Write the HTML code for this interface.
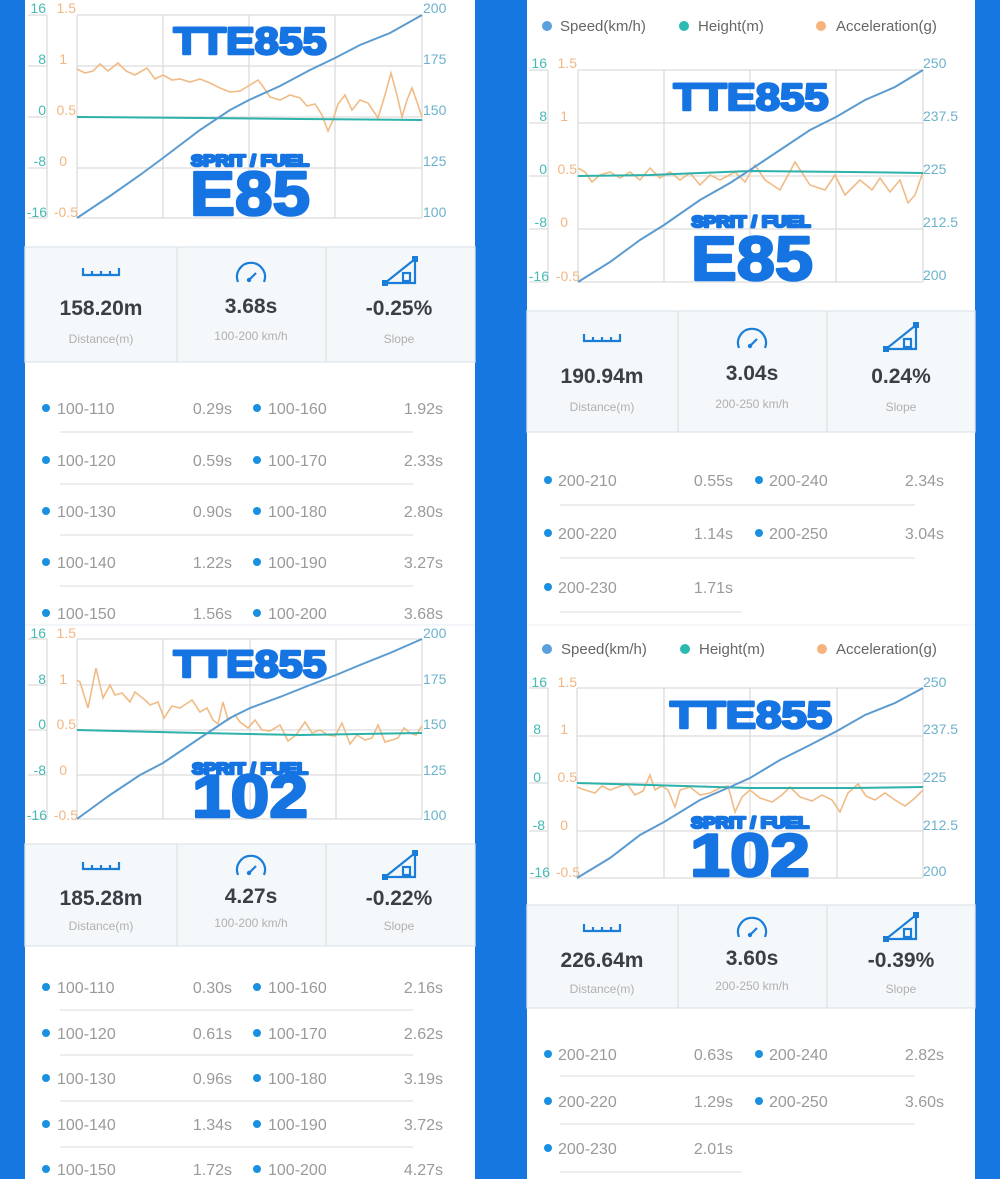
<!DOCTYPE html>
<html><head><meta charset="utf-8"><style>
html,body{margin:0;padding:0;background:#1677e0;}
svg{display:block;font-family:"Liberation Sans",sans-serif;}
.g{stroke:#dcdcdc;stroke-width:1.3;fill:none}
.lg{fill:#45b9b6;font-size:14px}
.lo{fill:#f0b783;font-size:14px}
.lr{fill:#6cb2cc;font-size:14px}
.sp{fill:none;stroke:#5b9bd0;stroke-width:2}
.ht{fill:none;stroke:#2cb2aa;stroke-width:2}
.ac{fill:none;stroke:#f0bb85;stroke-width:1.6}
.big{fill:#1574e2;font-weight:bold;stroke:#1574e2;stroke-width:2.5;stroke-linejoin:round}
.val{fill:#3a3f45;font-size:21px;font-weight:bold}
.sub{fill:#b0b0b0;font-size:12px}
.li{fill:#9a9a9a;font-size:16px}
.dot{fill:#1a90e0}
.sep{stroke:#e2e2e2;stroke-width:1.3}
.box{fill:#f4f8fa;stroke:#e0e6ea;stroke-width:1.3}
.ic{fill:none;stroke:#1a7ed8;stroke-width:2.2}
</style></head><body>
<svg width="1000" height="1179" viewBox="0 0 1000 1179" xmlns="http://www.w3.org/2000/svg">
<defs>
<g id="ruler"><path class="ic" d="M-18,-4 V3 H18 V-4 M-9,-1 V3 M0,-1 V3 M9,-1 V3"/></g>
<g id="gauge"><path class="ic" d="M-13,6 A14,14 0 1 1 13,6"/><path class="ic" d="M-2,4 L5,-3"/><circle cx="-2" cy="4" r="2.2" fill="#1a7ed8"/></g>
<g id="slope"><path class="ic" d="M-15,10 L15,-14 V10 Z" stroke-width="2.6"/><rect x="3" y="0" width="7" height="8" class="ic" stroke-width="1.6"/><rect x="-18" y="7" width="6" height="6" fill="#1a7ed8"/><rect x="12" y="-17" width="6" height="6" fill="#1a7ed8"/></g>
</defs>
<rect x="0" y="0" width="1000" height="1179" fill="#1677e0"/>
<rect x="25" y="0" width="450" height="1179" fill="#fff"/>
<rect x="527" y="0" width="448" height="1179" fill="#fff"/>
<line x1="25" y1="625" x2="475" y2="625" stroke="#e6eef4"/>
<line x1="527" y1="625" x2="975" y2="625" stroke="#eef2f5"/>

<!-- ===== Panel 1 left top ===== -->
<g>
<path class="g" d="M77,15H422M77,66H422M77,117H422M77,168H422M77,218H422M77,15V218M163,15V218M249,15V218M335,15V218M422,15V218"/>
<path class="g" d="M47,15V218M28,15H47M28,66H47M28,117H47M28,168H47M28,218H47"/>
<text class="lg" x="46" y="13" text-anchor="end">16</text><text class="lg" x="46" y="64" text-anchor="end">8</text><text class="lg" x="46" y="115" text-anchor="end">0</text><text class="lg" x="46" y="166" text-anchor="end">-8</text><text class="lg" x="47" y="217" text-anchor="end">-16</text>
<text class="lo" x="76" y="13" text-anchor="end">1.5</text><text class="lo" x="67" y="64" text-anchor="end">1</text><text class="lo" x="76" y="115" text-anchor="end">0.5</text><text class="lo" x="67" y="166" text-anchor="end">0</text><text class="lo" x="78" y="217" text-anchor="end">-0.5</text>
<text class="lr" x="423" y="13">200</text><text class="lr" x="423" y="64">175</text><text class="lr" x="423" y="115">150</text><text class="lr" x="423" y="166">125</text><text class="lr" x="423" y="217">100</text>
<polyline class="ac" points="77,69 85,73 93,71 100,64 108,71 118,63 126,71 135,75 147,68 155,79 163,75 172,80 180,79 190,82 200,79 210,83 220,88 230,92 240,91 250,85 258,80 262,85 270,97 280,100 290,95 300,98 307,106 315,104 322,115 328,131 333,120 338,104 345,95 352,110 360,100 368,103 378,118 385,95 391,73 397,95 402,117 407,100 412,88 418,105 422,117"/>
<polyline class="ht" points="77,117 200,118 300,119 422,120"/>
<polyline class="sp" points="77,218 110,196 140,175 163,158 200,130 230,110 249,100 280,86 310,70 335,58 360,45 390,33 422,15"/>
<text class="big" x="250" y="54" font-size="38" text-anchor="middle" textLength="153" lengthAdjust="spacingAndGlyphs">TTE855</text>
<text class="big" x="250" y="166" font-size="16" text-anchor="middle" textLength="118" lengthAdjust="spacingAndGlyphs" stroke-width="1">SPRIT / FUEL</text>
<text class="big" x="250" y="215" font-size="62" text-anchor="middle" textLength="120" lengthAdjust="spacingAndGlyphs" stroke-width="4">E85</text>
<rect class="box" x="25" y="247" width="450" height="115"/>
<path class="sep" d="M177,247V362M326,247V362"/>
<use href="#ruler" x="101" y="272"/><use href="#gauge" x="251" y="276"/><use href="#slope" x="400" y="273"/>
<text class="val" x="101" y="315" text-anchor="middle">158.20m</text><text class="val" x="251" y="313" text-anchor="middle">3.68s</text><text class="val" x="399" y="315" text-anchor="middle">-0.25%</text>
<text class="sub" x="101" y="343" text-anchor="middle">Distance(m)</text><text class="sub" x="251" y="340" text-anchor="middle">100-200 km/h</text><text class="sub" x="399" y="343" text-anchor="middle">Slope</text>
<g>
<circle class="dot" cx="46" cy="408" r="4"/><text class="li" x="57" y="414">100-110</text><text class="li" x="232" y="414" text-anchor="end">0.29s</text><circle class="dot" cx="257" cy="408" r="4"/><text class="li" x="268" y="414">100-160</text><text class="li" x="443" y="414" text-anchor="end">1.92s</text>
<line class="sep" x1="60" y1="432" x2="413" y2="432"/>
<circle class="dot" cx="46" cy="460" r="4"/><text class="li" x="57" y="466">100-120</text><text class="li" x="232" y="466" text-anchor="end">0.59s</text><circle class="dot" cx="257" cy="460" r="4"/><text class="li" x="268" y="466">100-170</text><text class="li" x="443" y="466" text-anchor="end">2.33s</text>
<line class="sep" x1="60" y1="484" x2="413" y2="484"/>
<circle class="dot" cx="46" cy="511" r="4"/><text class="li" x="57" y="517">100-130</text><text class="li" x="232" y="517" text-anchor="end">0.90s</text><circle class="dot" cx="257" cy="511" r="4"/><text class="li" x="268" y="517">100-180</text><text class="li" x="443" y="517" text-anchor="end">2.80s</text>
<line class="sep" x1="60" y1="535" x2="413" y2="535"/>
<circle class="dot" cx="46" cy="562" r="4"/><text class="li" x="57" y="568">100-140</text><text class="li" x="232" y="568" text-anchor="end">1.22s</text><circle class="dot" cx="257" cy="562" r="4"/><text class="li" x="268" y="568">100-190</text><text class="li" x="443" y="568" text-anchor="end">3.27s</text>
<line class="sep" x1="60" y1="586" x2="413" y2="586"/>
<circle class="dot" cx="46" cy="613" r="4"/><text class="li" x="57" y="619">100-150</text><text class="li" x="232" y="619" text-anchor="end">1.56s</text><circle class="dot" cx="257" cy="613" r="4"/><text class="li" x="268" y="619">100-200</text><text class="li" x="443" y="619" text-anchor="end">3.68s</text>
</g>
</g>

<!-- ===== Panel 2 left bottom ===== -->
<g>
<path class="g" d="M77,639H422M77,685H422M77,730H422M77,775H422M77,819H422M77,639V819M163,639V819M250,639V819M336,639V819M422,639V819"/>
<path class="g" d="M47,639V819M28,639H47M28,685H47M28,730H47M28,775H47M28,819H47"/>
<text class="lg" x="46" y="638" text-anchor="end">16</text><text class="lg" x="46" y="684" text-anchor="end">8</text><text class="lg" x="46" y="729" text-anchor="end">0</text><text class="lg" x="46" y="775" text-anchor="end">-8</text><text class="lg" x="47" y="820" text-anchor="end">-16</text>
<text class="lo" x="76" y="638" text-anchor="end">1.5</text><text class="lo" x="67" y="684" text-anchor="end">1</text><text class="lo" x="76" y="729" text-anchor="end">0.5</text><text class="lo" x="67" y="775" text-anchor="end">0</text><text class="lo" x="78" y="820" text-anchor="end">-0.5</text>
<text class="lr" x="423" y="638">200</text><text class="lr" x="423" y="684">175</text><text class="lr" x="423" y="729">150</text><text class="lr" x="423" y="775">125</text><text class="lr" x="423" y="820">100</text>
<polyline class="ac" points="77,680 80,682 88,708 96,668 103,698 110,685 115,695 122,693 130,702 135,692 145,700 150,705 158,702 164,718 172,706 180,708 192,700 200,712 207,708 213,720 218,724 223,702 228,720 235,715 240,722 248,728 255,720 262,730 270,731 280,725 288,741 296,735 305,722 312,733 320,730 328,735 335,736 342,723 350,744 357,735 365,740 372,738 378,725 385,742 392,740 398,738 404,728 410,733 416,735 422,726"/>
<polyline class="ht" points="77,730 200,733 300,735 422,733"/>
<polyline class="sp" points="77,819 110,795 140,775 163,763 200,738 230,718 250,708 280,697 310,685 336,675 360,665 390,653 422,639"/>
<text class="big" x="250" y="677" font-size="38" text-anchor="middle" textLength="153" lengthAdjust="spacingAndGlyphs">TTE855</text>
<text class="big" x="250" y="774" font-size="16" text-anchor="middle" textLength="116" lengthAdjust="spacingAndGlyphs" stroke-width="1">SPRIT / FUEL</text>
<text class="big" x="250" y="817" font-size="60" text-anchor="middle" textLength="116" lengthAdjust="spacingAndGlyphs" stroke-width="4">102</text>
<rect class="box" x="25" y="844" width="450" height="102"/>
<path class="sep" d="M177,844V946M326,844V946"/>
<use href="#ruler" x="101" y="866"/><use href="#gauge" x="251" y="869"/><use href="#slope" x="400" y="867"/>
<text class="val" x="101" y="905" text-anchor="middle">185.28m</text><text class="val" x="251" y="903" text-anchor="middle">4.27s</text><text class="val" x="399" y="905" text-anchor="middle">-0.22%</text>
<text class="sub" x="101" y="930" text-anchor="middle">Distance(m)</text><text class="sub" x="251" y="927" text-anchor="middle">100-200 km/h</text><text class="sub" x="399" y="930" text-anchor="middle">Slope</text>
<circle class="dot" cx="46" cy="987" r="4"/><text class="li" x="57" y="993">100-110</text><text class="li" x="232" y="993" text-anchor="end">0.30s</text><circle class="dot" cx="257" cy="987" r="4"/><text class="li" x="268" y="993">100-160</text><text class="li" x="443" y="993" text-anchor="end">2.16s</text>
<line class="sep" x1="60" y1="1010" x2="413" y2="1010"/>
<circle class="dot" cx="46" cy="1033" r="4"/><text class="li" x="57" y="1039">100-120</text><text class="li" x="232" y="1039" text-anchor="end">0.61s</text><circle class="dot" cx="257" cy="1033" r="4"/><text class="li" x="268" y="1039">100-170</text><text class="li" x="443" y="1039" text-anchor="end">2.62s</text>
<line class="sep" x1="60" y1="1055" x2="413" y2="1055"/>
<circle class="dot" cx="46" cy="1078" r="4"/><text class="li" x="57" y="1084">100-130</text><text class="li" x="232" y="1084" text-anchor="end">0.96s</text><circle class="dot" cx="257" cy="1078" r="4"/><text class="li" x="268" y="1084">100-180</text><text class="li" x="443" y="1084" text-anchor="end">3.19s</text>
<line class="sep" x1="60" y1="1101" x2="413" y2="1101"/>
<circle class="dot" cx="46" cy="1124" r="4"/><text class="li" x="57" y="1130">100-140</text><text class="li" x="232" y="1130" text-anchor="end">1.34s</text><circle class="dot" cx="257" cy="1124" r="4"/><text class="li" x="268" y="1130">100-190</text><text class="li" x="443" y="1130" text-anchor="end">3.72s</text>
<line class="sep" x1="60" y1="1147" x2="413" y2="1147"/>
<circle class="dot" cx="46" cy="1169" r="4"/><text class="li" x="57" y="1175">100-150</text><text class="li" x="232" y="1175" text-anchor="end">1.72s</text><circle class="dot" cx="257" cy="1169" r="4"/><text class="li" x="268" y="1175">100-200</text><text class="li" x="443" y="1175" text-anchor="end">4.27s</text>
</g>

<!-- ===== Panel 3 right top ===== -->
<g>
<circle cx="547" cy="26" r="5" fill="#5aa0dc"/><text x="560" y="31" font-size="15" fill="#666">Speed(km/h)</text>
<circle cx="684" cy="26" r="5" fill="#2cb9b2"/><text x="698" y="31" font-size="15" fill="#666">Height(m)</text>
<circle cx="821" cy="26" r="5" fill="#f5b27c"/><text x="836" y="31" font-size="15" fill="#666">Acceleration(g)</text>
<path class="g" d="M578,70H923M578,123H923M578,176H923M578,229H923M578,282H923M578,70V282M664,70V282M750,70V282M836,70V282M923,70V282"/>
<path class="g" d="M548,70V282M529,70H548M529,123H548M529,176H548M529,229H548M529,282H548"/>
<text class="lg" x="547" y="68" text-anchor="end">16</text><text class="lg" x="547" y="121" text-anchor="end">8</text><text class="lg" x="547" y="174" text-anchor="end">0</text><text class="lg" x="547" y="227" text-anchor="end">-8</text><text class="lg" x="549" y="281" text-anchor="end">-16</text>
<text class="lo" x="577" y="68" text-anchor="end">1.5</text><text class="lo" x="568" y="121" text-anchor="end">1</text><text class="lo" x="577" y="174" text-anchor="end">0.5</text><text class="lo" x="568" y="227" text-anchor="end">0</text><text class="lo" x="580" y="281" text-anchor="end">-0.5</text>
<text class="lr" x="923" y="68">250</text><text class="lr" x="923" y="121">237.5</text><text class="lr" x="923" y="174">225</text><text class="lr" x="923" y="227">212.5</text><text class="lr" x="923" y="280">200</text>
<polyline class="ac" points="578,168 585,172 592,182 600,175 610,172 620,178 630,172 640,180 650,168 660,178 670,172 680,180 690,173 700,185 710,175 720,180 735,172 745,182 755,165 765,180 780,190 795,162 810,185 825,190 835,175 845,195 860,180 872,190 880,178 890,192 900,180 908,203 915,195 923,172"/>
<polyline class="ht" points="578,176 650,175 750,171 850,172 923,173"/>
<polyline class="sp" points="578,282 610,262 640,240 664,225 700,200 730,183 750,170 780,150 810,130 836,117 865,100 895,87 923,70"/>
<text class="big" x="751" y="110" font-size="38" text-anchor="middle" textLength="155" lengthAdjust="spacingAndGlyphs">TTE855</text>
<text class="big" x="751" y="227" font-size="16" text-anchor="middle" textLength="119" lengthAdjust="spacingAndGlyphs" stroke-width="1">SPRIT / FUEL</text>
<text class="big" x="752" y="280" font-size="62" text-anchor="middle" textLength="122" lengthAdjust="spacingAndGlyphs" stroke-width="4">E85</text>
<rect class="box" x="527" y="311" width="448" height="121"/>
<path class="sep" d="M678,311V432M827,311V432"/>
<use href="#ruler" x="602" y="338"/><use href="#gauge" x="752" y="342"/><use href="#slope" x="901" y="339"/>
<text class="val" x="602" y="383" text-anchor="middle">190.94m</text><text class="val" x="752" y="380" text-anchor="middle">3.04s</text><text class="val" x="901" y="383" text-anchor="middle">0.24%</text>
<text class="sub" x="602" y="411" text-anchor="middle">Distance(m)</text><text class="sub" x="752" y="408" text-anchor="middle">200-250 km/h</text><text class="sub" x="901" y="411" text-anchor="middle">Slope</text>
<circle class="dot" cx="548" cy="480" r="4"/><text class="li" x="558" y="486">200-210</text><text class="li" x="733" y="486" text-anchor="end">0.55s</text><circle class="dot" cx="759" cy="480" r="4"/><text class="li" x="769" y="486">200-240</text><text class="li" x="944" y="486" text-anchor="end">2.34s</text>
<line class="sep" x1="560" y1="505" x2="915" y2="505"/>
<circle class="dot" cx="548" cy="533" r="4"/><text class="li" x="558" y="539">200-220</text><text class="li" x="733" y="539" text-anchor="end">1.14s</text><circle class="dot" cx="759" cy="533" r="4"/><text class="li" x="769" y="539">200-250</text><text class="li" x="944" y="539" text-anchor="end">3.04s</text>
<line class="sep" x1="560" y1="558" x2="915" y2="558"/>
<circle class="dot" cx="548" cy="587" r="4"/><text class="li" x="558" y="593">200-230</text><text class="li" x="733" y="593" text-anchor="end">1.71s</text>
<line class="sep" x1="560" y1="612" x2="742" y2="612"/>
</g>

<!-- ===== Panel 4 right bottom ===== -->
<g>
<circle cx="547" cy="649" r="5" fill="#5aa0dc"/><text x="561" y="654" font-size="15" fill="#666">Speed(km/h)</text>
<circle cx="685" cy="649" r="5" fill="#2cb9b2"/><text x="699" y="654" font-size="15" fill="#666">Height(m)</text>
<circle cx="822" cy="649" r="5" fill="#f5b27c"/><text x="836" y="654" font-size="15" fill="#666">Acceleration(g)</text>
<path class="g" d="M577,688H923M577,736H923M577,783H923M577,831H923M577,878H923M577,688V878M664,688V878M750,688V878M837,688V878M923,688V878"/>
<path class="g" d="M548,688V878M529,688H548M529,736H548M529,783H548M529,831H548M529,878H548"/>
<text class="lg" x="547" y="687" text-anchor="end">16</text><text class="lg" x="541" y="734" text-anchor="end">8</text><text class="lg" x="541" y="782" text-anchor="end">0</text><text class="lg" x="545" y="830" text-anchor="end">-8</text><text class="lg" x="550" y="877" text-anchor="end">-16</text>
<text class="lo" x="577" y="687" text-anchor="end">1.5</text><text class="lo" x="568" y="734" text-anchor="end">1</text><text class="lo" x="577" y="782" text-anchor="end">0.5</text><text class="lo" x="568" y="830" text-anchor="end">0</text><text class="lo" x="580" y="877" text-anchor="end">-0.5</text>
<text class="lr" x="923" y="687">250</text><text class="lr" x="923" y="734">237.5</text><text class="lr" x="923" y="782">225</text><text class="lr" x="923" y="830">212.5</text><text class="lr" x="923" y="876">200</text>
<polyline class="ac" points="577,787 585,790 595,793 602,786 610,790 618,787 627,784 635,795 643,791 650,775 655,790 662,786 668,790 675,807 680,790 690,787 700,795 710,793 720,788 728,786 735,812 742,797 750,790 760,798 772,802 782,795 790,787 800,797 812,801 822,795 832,800 840,812 848,793 858,784 866,796 875,800 885,793 895,800 905,806 915,798 923,790"/>
<polyline class="ht" points="577,783 650,785 750,788 850,788 923,787"/>
<polyline class="sp" points="577,878 610,858 640,835 664,822 700,800 730,787 750,778 780,760 810,745 837,731 865,715 895,703 923,688"/>
<text class="big" x="751" y="728" font-size="38" text-anchor="middle" textLength="162" lengthAdjust="spacingAndGlyphs">TTE855</text>
<text class="big" x="750" y="828" font-size="16" text-anchor="middle" textLength="118" lengthAdjust="spacingAndGlyphs" stroke-width="1">SPRIT / FUEL</text>
<text class="big" x="750" y="876" font-size="60" text-anchor="middle" textLength="120" lengthAdjust="spacingAndGlyphs" stroke-width="4">102</text>
<rect class="box" x="527" y="905" width="448" height="103"/>
<path class="sep" d="M678,905V1008M827,905V1008"/>
<use href="#ruler" x="602" y="928"/><use href="#gauge" x="752" y="931"/><use href="#slope" x="901" y="929"/>
<text class="val" x="602" y="967" text-anchor="middle">226.64m</text><text class="val" x="752" y="965" text-anchor="middle">3.60s</text><text class="val" x="901" y="967" text-anchor="middle">-0.39%</text>
<text class="sub" x="602" y="993" text-anchor="middle">Distance(m)</text><text class="sub" x="752" y="990" text-anchor="middle">200-250 km/h</text><text class="sub" x="901" y="993" text-anchor="middle">Slope</text>
<circle class="dot" cx="548" cy="1054" r="4"/><text class="li" x="558" y="1060">200-210</text><text class="li" x="733" y="1060" text-anchor="end">0.63s</text><circle class="dot" cx="759" cy="1054" r="4"/><text class="li" x="769" y="1060">200-240</text><text class="li" x="944" y="1060" text-anchor="end">2.82s</text>
<line class="sep" x1="560" y1="1076" x2="915" y2="1076"/>
<circle class="dot" cx="548" cy="1101" r="4"/><text class="li" x="558" y="1107">200-220</text><text class="li" x="733" y="1107" text-anchor="end">1.29s</text><circle class="dot" cx="759" cy="1101" r="4"/><text class="li" x="769" y="1107">200-250</text><text class="li" x="944" y="1107" text-anchor="end">3.60s</text>
<line class="sep" x1="560" y1="1124" x2="915" y2="1124"/>
<circle class="dot" cx="548" cy="1148" r="4"/><text class="li" x="558" y="1154">200-230</text><text class="li" x="733" y="1154" text-anchor="end">2.01s</text>
<line class="sep" x1="560" y1="1172" x2="742" y2="1172"/>
</g>
</svg>
</body></html>
